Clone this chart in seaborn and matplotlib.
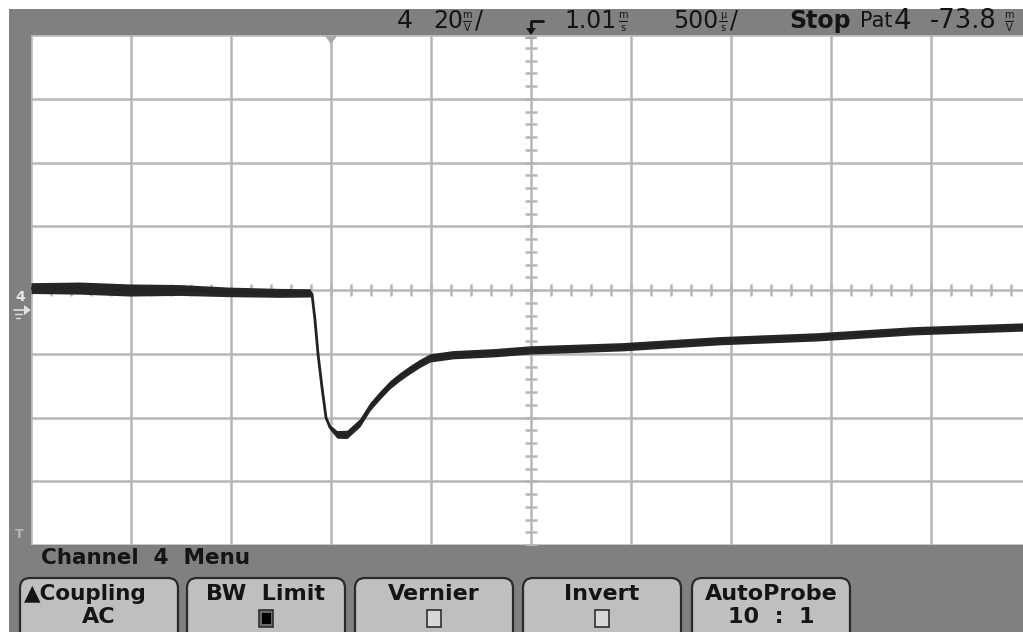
import numpy as np
import pandas as pd
import matplotlib
matplotlib.use("Agg")
import matplotlib.pyplot as plt
from matplotlib.patches import Rectangle, FancyBboxPatch, Polygon
import seaborn as sns

# ---------------- data ----------------
# time in microseconds from the left edge of the screen (500 us/div)
time_us = [0, 245, 495, 745, 995, 1245, 1395, 1405, 1420, 1435, 1455, 1475,
           1495, 1530, 1580, 1645, 1695, 1745, 1795, 1845, 1895, 1945, 1995,
           2110, 2310, 2495, 2960, 3445, 3930, 4410, 4960]
# voltage in mV relative to screen centre (20 mV/div)
volt_mv = [0.6, 0.6, 0.0, 0.0, -0.6, -0.9, -0.9, -1.3, -9.4, -20.0, -30.6,
           -40.0, -43.1, -45.3, -45.3, -41.6, -36.6, -33.0, -29.7, -27.2,
           -25.0, -23.0, -21.3, -20.3, -19.7, -18.8, -17.8, -15.9, -14.7,
           -12.8, -11.6]
# half-width of the noise band (mV)
noise_mv = [1.7, 1.9, 1.9, 1.7, 1.5, 1.4, 1.3, 0.4, 0.3, 0.3, 0.3, 0.3,
            0.8, 1.2, 1.3, 1.3, 1.3, 1.3, 1.3, 1.3, 1.3, 1.3, 1.3, 1.3,
            1.3, 1.3, 1.3, 1.3, 1.3, 1.3, 1.3]

status_items = ["4", "20", "1.01", "500", "Stop", "Pat", "4", "-73.8"]
menu_title = "Channel  4  Menu"
button_top = ["\u25B2Coupling", "BW  Limit", "Vernier", "Invert", "AutoProbe"]
button_bottom = ["AC", "", "", "", "10  :  1"]
button_box = [None, "filled", "empty", "empty", None]

# ---------------- style ----------------
sns.set_theme(style="white")
plt.rcParams["font.family"] = ["DejaVu Sans"]

W, H = 1023, 632
fig = plt.figure(figsize=(W / 100, H / 100), dpi=100)
fig.patch.set_facecolor("white")

GRAY = "#808080"
BTN = "#bfbfbf"
GRID = "#b6b6b6"
INK = "#141414"

# background / chrome axes in pixel coordinates
bg = fig.add_axes([0, 0, 1, 1], zorder=0)
bg.set_xlim(0, W)
bg.set_ylim(H, 0)
bg.axis("off")
bg.add_patch(Rectangle((9, 9), W - 9, H - 9, facecolor=GRAY, edgecolor="none"))

# ---------------- plot area ----------------
left, top, right, bottom = 31, 35, 1031, 545
ax = fig.add_axes([left / W, 1 - bottom / H, (right - left) / W, (bottom - top) / H], zorder=1)
ax.set_facecolor("white")
ax.set_xlim(0, 5000)
ax.set_ylim(-80, 80)
ax.set_xticks(np.arange(0, 5001, 500))
ax.set_yticks(np.arange(-80, 81, 20))
ax.grid(True, color=GRID, lw=1.8)
ax.tick_params(length=0, labelleft=False, labelbottom=False)
for s in ax.spines.values():
    s.set_visible(False)

# minor ticks on the centre cross
ax.plot(np.arange(0, 5001, 100), np.zeros(51), ls="none", marker="|",
        ms=8, mew=1.8, color=GRID, zorder=2)
ax.plot(np.full(41, 2500), np.arange(-80, 81, 4), ls="none", marker="_",
        ms=8, mew=1.8, color=GRID, zorder=2)

t = np.array(time_us, float)
v = np.array(volt_mv, float)
n = np.array(noise_mv, float)
ax.fill_between(t, v - n, v + n, color="#262626", lw=0, zorder=3)
df = pd.DataFrame({"t": t, "v": v})
sns.lineplot(data=df, x="t", y="v", ax=ax, color="#222222", lw=2.0, zorder=4)
ax.set_xlabel("")
ax.set_ylabel("")

# ---------------- foreground markers ----------------
fg = fig.add_axes([0, 0, 1, 1], zorder=3)
fg.set_xlim(0, W)
fg.set_ylim(H, 0)
fg.axis("off")
fg.patch.set_alpha(0)
# trigger position marker
fg.add_patch(Polygon([[325, 36], [337, 36], [331, 44]], closed=True,
                     facecolor="#a8a8a8", edgecolor="none"))
# centre top marker
fg.plot([526, 536], [38, 38], color="#a8a8a8", lw=1.5)
# ground marker on left
fg.text(20, 297, "4", color="#e8e8e8", fontsize=10, ha="center", va="center",
        fontweight="bold")
fg.add_patch(Polygon([[24, 305], [31, 310], [24, 315]], closed=True,
                     facecolor="#e0e0e0", edgecolor="none"))
fg.plot([14, 26], [310, 310], color="#e0e0e0", lw=1.2)
fg.plot([15, 22], [314, 314], color="#e0e0e0", lw=1.0)
fg.plot([16, 20], [318, 318], color="#e0e0e0", lw=1.0)
# trigger level "T" at bottom-left
fg.text(19, 535, "T", color="#b8b8b8", fontsize=9, ha="center", va="center",
        fontweight="bold")

# ---------------- top status bar ----------------
FS = 17
def txt(x, y, s, size=FS, **kw):
    bg.text(x, y, s, fontsize=size, color=INK, va="center", ha="left", **kw)

def stacked(x, a, b):
    bg.text(x, 14.5, a, fontsize=7, color=INK, ha="center", va="center")
    bg.plot([x - 4, x + 4], [21, 21], color=INK, lw=0.8)
    bg.text(x, 28, b, fontsize=7, color=INK, ha="center", va="center")

txt(397, 21, status_items[0], size=FS + 1)
txt(433, 21, status_items[1])
stacked(467, "m", "V")
txt(475, 21, "/")
# trigger edge glyph
bg.plot([531, 531, 543], [30, 21, 21], color=INK, lw=2)
bg.add_patch(Polygon([[526, 28], [536, 28], [531, 35]], closed=True,
                     facecolor=INK, edgecolor="none"))
txt(564, 21, status_items[2])
stacked(623, "m", "s")
txt(673, 21, status_items[3])
stacked(723, "\u00b5", "s")
txt(730, 21, "/")
txt(789, 21, status_items[4], fontweight="bold")
txt(860, 21, status_items[5], size=FS - 2)
txt(894, 21, status_items[6], size=FS + 3)
txt(930, 21, status_items[7], size=FS + 1.5)
stacked(1009, "m", "V")

# ---------------- bottom menu ----------------
txt(41, 558, menu_title, size=15.5, fontweight="bold")

btn_x = [20, 187, 355, 523, 692]
btn_w = 158
for i in range(5):
    x0 = btn_x[i]
    bg.add_patch(FancyBboxPatch((x0 + 4, 582), btn_w - 8, 60,
                                boxstyle="round,pad=4,rounding_size=10",
                                facecolor=BTN, edgecolor="#2a2a2a", lw=1.6))
    cx = x0 + btn_w / 2
    if i == 0:
        bg.text(x0 + 4, 594, button_top[i], fontsize=15.5, color=INK,
                ha="left", va="center", fontweight="bold")
    else:
        bg.text(cx, 594, button_top[i], fontsize=FS - 1, color=INK,
                ha="center", va="center", fontweight="bold")
    if button_bottom[i]:
        bg.text(cx, 617, button_bottom[i], fontsize=FS - 1, color=INK,
                ha="center", va="center", fontweight="bold")
    if button_box[i] == "filled":
        bg.add_patch(Rectangle((cx - 7, 610), 14, 17, facecolor="#6a6a6a",
                               edgecolor="#303030", lw=1.2))
        bg.add_patch(Rectangle((cx - 4, 613), 9, 11, facecolor="black",
                               edgecolor="none"))
    elif button_box[i] == "empty":
        bg.add_patch(Rectangle((cx - 7, 610), 14, 17, facecolor="#d8d8d8",
                               edgecolor="#303030", lw=1.2))

fig.savefig("out.png", dpi=100, facecolor=fig.get_facecolor())
